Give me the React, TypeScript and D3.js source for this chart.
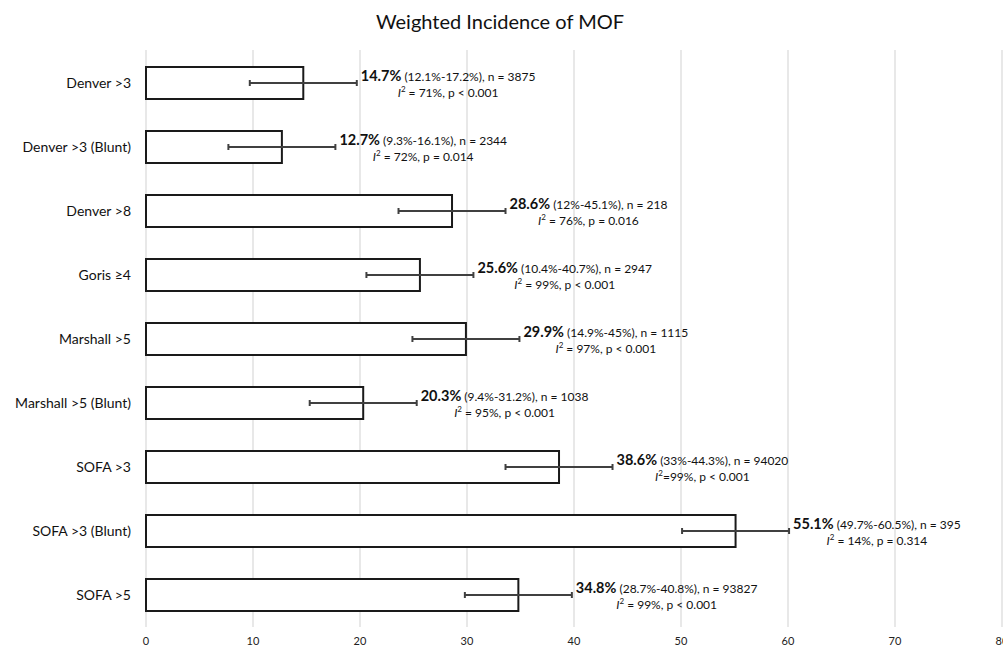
import React, { useEffect, useRef } from 'react';
import * as d3 from 'd3';

const categories = ["Denver >3", "Denver >3 (Blunt)", "Denver >8", "Goris ≥4", "Marshall >5", "Marshall >5 (Blunt)", "SOFA >3", "SOFA >3 (Blunt)", "SOFA >5"];
const incidence = [14.7, 12.7, 28.6, 25.6, 29.9, 20.3, 38.6, 55.1, 34.8];
const ciText = ["(12.1%-17.2%)", "(9.3%-16.1%)", "(12%-45.1%)", "(10.4%-40.7%)", "(14.9%-45%)", "(9.4%-31.2%)", "(33%-44.3%)", "(49.7%-60.5%)", "(28.7%-40.8%)"];
const nValues = ["3875", "2344", "218", "2947", "1115", "1038", "94020", "395", "93827"];
const i2Text = [" = 71%", " = 72%", " = 76%", " = 99%", " = 97%", " = 95%", "=99%", " = 14%", " = 99%"];
const pText = ["p < 0.001", "p = 0.014", "p = 0.016", "p < 0.001", "p < 0.001", "p < 0.001", "p < 0.001", "p = 0.314", "p < 0.001"];
const xTicks = [0, 10, 20, 30, 40, 50, 60, 70, 80];
const errorMargin = 5; // fixed error bar, as in the original

const W = 1003;
const H = 647;
const margin = { top: 51, right: 1, left: 146, bottom: 20 };
const FONT = "Lato, 'Open Sans', sans-serif";

export default function App() {
    const ref = useRef<SVGSVGElement>(null);

    useEffect(() => {
        const svg = d3.select(ref.current);
        svg.selectAll("*").remove();

        const x = d3.scaleLinear().domain([0, 80]).range([margin.left, W - margin.right]);
        // step 64, bars 32 high
        const y = d3.scaleBand().domain(categories).range([margin.top, 627])
            .paddingInner(0.5).paddingOuter(0.25);

        svg.append("text")
            .attr("x", 500).attr("y", 29)
            .attr("text-anchor", "middle")
            .attr("font-family", FONT).attr("font-size", 20).attr("fill", "#111")
            .text("Weighted Incidence of MOF");

        // vertical gridlines
        svg.append("g")
            .selectAll("line")
            .data(xTicks)
            .join("line")
                .attr("x1", d => x(d)).attr("x2", d => x(d))
                .attr("y1", 50).attr("y2", 627)
                .attr("stroke", "#d9d9d9").attr("stroke-width", 1.2);

        // x tick labels
        svg.append("g")
            .selectAll("text")
            .data(xTicks)
            .join("text")
                .attr("x", d => x(d)).attr("y", 645)
                .attr("text-anchor", "middle")
                .attr("font-family", FONT).attr("font-size", 11).attr("fill", "#222")
                .text(d => d);

        // category labels
        svg.append("g")
            .selectAll("text")
            .data(categories)
            .join("text")
                .attr("x", 131).attr("y", d => y(d)! + y.bandwidth() / 2)
                .attr("dy", "0.35em")
                .attr("text-anchor", "end")
                .attr("font-family", FONT).attr("font-size", 14).attr("fill", "#111")
                .text(d => d);

        // bars
        svg.append("g")
            .selectAll("rect")
            .data(categories)
            .join("rect")
                .attr("x", x(0))
                .attr("y", d => y(d)!)
                .attr("width", (d, i) => x(incidence[i]) - x(0))
                .attr("height", y.bandwidth())
                .attr("fill", "#fff")
                .attr("stroke", "#1a1a1a").attr("stroke-width", 2);

        // error bars
        const eb = svg.append("g").attr("stroke", "#404040").attr("stroke-width", 2);
        categories.forEach((c, i) => {
            const cy = y(c)! + y.bandwidth() / 2;
            const lo = x(incidence[i] - errorMargin);
            const hi = x(incidence[i] + errorMargin);
            eb.append("line").attr("x1", lo).attr("x2", hi).attr("y1", cy).attr("y2", cy);
            eb.append("line").attr("x1", lo).attr("x2", lo).attr("y1", cy - 3).attr("y2", cy + 3);
            eb.append("line").attr("x1", hi).attr("x2", hi).attr("y1", cy - 3).attr("y2", cy + 3);
        });

        // annotations
        const ann = svg.append("g").attr("font-family", FONT).attr("fill", "#111");
        categories.forEach((c, i) => {
            const cy = y(c)! + y.bandwidth() / 2;
            const sx = x(incidence[i] + errorMargin) + 4;
            const line1 = ann.append("text").attr("x", sx).attr("y", cy - 2);
            line1.append("tspan").attr("font-weight", "bold").attr("font-size", 14.5).text(`${incidence[i]}%`);
            line1.append("tspan").attr("font-size", 12).text(` ${ciText[i]}, n = ${nValues[i]}`);
            const w = (line1.node() as SVGTextElement).getComputedTextLength();
            const line2 = ann.append("text").attr("x", sx + w / 2).attr("y", cy + 14)
                .attr("text-anchor", "middle").attr("font-size", 12);
            line2.append("tspan").attr("font-style", "italic").text("I");
            line2.append("tspan").attr("font-size", 8).attr("dy", -5).text("2");
            line2.append("tspan").attr("dy", 5).text(`${i2Text[i]}, ${pText[i]}`);
        });
    }, []);

    return (
        <svg ref={ref} width={W} height={H}
            style={{ position: "absolute", left: 0, top: 0, background: "#fff" }} />
    );
}
